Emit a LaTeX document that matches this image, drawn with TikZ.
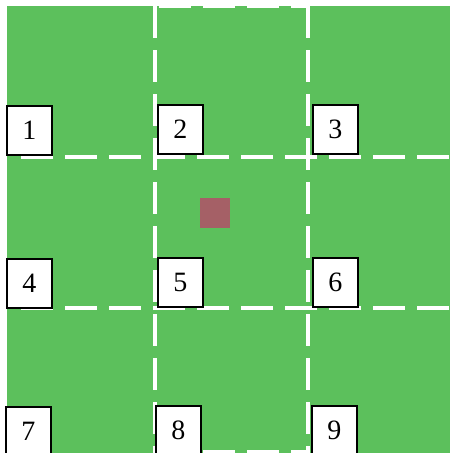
\documentclass[tikz,border=0pt]{standalone}
\usepackage{fontspec}
\setmainfont{Liberation Serif}
\definecolor{grass}{RGB}{92,192,92}
\definecolor{spot}{RGB}{165,96,102}
\begin{document}
\begin{tikzpicture}[
  x=1pt, y=-1pt,
  gridline/.style={draw=white, line width=3.8pt, dash pattern=on 32pt off 12pt},
  numbox/.style={draw, fill=white, line width=1.5pt, minimum width=45pt,
    minimum height=49pt, inner sep=0pt, anchor=north west,
    font=\fontsize{28}{28}\selectfont}
]
\useasboundingbox (0,0) rectangle (450,453);
\clip (0,0) rectangle (450,453);
\fill[white] (0,0) rectangle (450,453);
\fill[grass] (7,6) rectangle (450,453);
% field lines
\draw[gridline, dash phase=-7pt] (14,157) -- (450,157);
\draw[gridline, dash phase=-7pt] (14,308) -- (450,308);
\draw[gridline] (155,6) -- (155,453);
\draw[gridline] (308,6) -- (308,453);
\draw[gridline, dash phase=-4pt] (155,6) -- (308,6);
\draw[gridline, dash phase=-4pt] (155,452) -- (308,452);
% spot in cell 5
\fill[spot] (200,198) rectangle (230,228);
% cell numbers
\node[numbox] (n1) at (6,105) {1};
\node[numbox] (n2) at (157,104) {2};
\node[numbox] (n3) at (312,104) {3};
\node[numbox] (n4) at (6,258) {4};
\node[numbox] (n5) at (157,257) {5};
\node[numbox] (n6) at (312,257) {6};
\node[numbox] (n7) at (5,406) {7};
\node[numbox] (n8) at (155,405) {8};
\node[numbox] (n9) at (311,405) {9};
\end{tikzpicture}
\end{document}
